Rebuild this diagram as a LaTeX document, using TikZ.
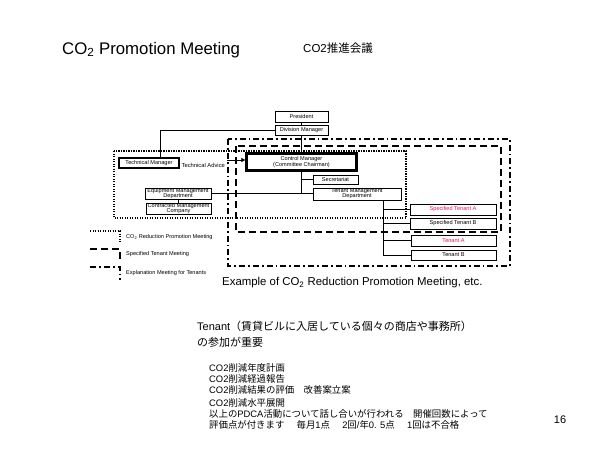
\documentclass[tikz,border=0pt]{standalone}
\usepackage{fontspec}
\setmainfont{Liberation Sans}
\newfontfamily\jp{Noto Sans CJK JP}
\usetikzlibrary{arrows.meta}
\definecolor{tred}{RGB}{232,20,90}
\begin{document}
\begin{tikzpicture}[x=1pt,y=-1pt,
  box/.style={draw, line width=0.6pt, fill=white, inner sep=0.3pt, align=center,
    font=\fontsize{5.6}{5.2}\selectfont},
  thickbox/.style={box, line width=1.3pt},
  dotbox/.style={line width=1.6pt, dash pattern=on 1.4pt off 1.1pt},
  dashbox/.style={line width=1.8pt, dash pattern=on 7pt off 4pt},
  dashdotbox/.style={line width=1.8pt, dash pattern=on 6pt off 3pt on 1.8pt off 3pt},
  conn/.style={line width=0.6pt},
  legtext/.style={anchor=west, inner sep=0pt, font=\fontsize{5.6}{6}\selectfont},
  bigtext/.style={anchor=west, inner sep=0pt, align=left}
]
\useasboundingbox (0,0) rectangle (600,450);

% titles
\node[bigtext, font=\fontsize{16.8}{18}\selectfont] (title) at (62,50) {CO\textsubscript{2} Promotion Meeting};
\node[bigtext, font=\fontsize{11.5}{13}\selectfont] (jtitle) at (303,48) {CO2{\jp 推進会議}};

% meeting boxes
\draw[dashdotbox] (228,139) rectangle (510,266);
\draw[dashbox] (236,146) rectangle (501,232);
\draw[dotbox] (114,151) rectangle (406,218);

% nodes
\node[box, minimum width=53pt, minimum height=11pt] (pres) at (301.5,116.5) {President};
\node[box, minimum width=53pt, minimum height=10pt] (dm) at (301.5,130) {Division Manager};
\node[thickbox, minimum width=60pt, minimum height=10pt] (tm) at (149,163) {Technical Manager};
\node[box, minimum width=66pt, minimum height=11pt] (eq) at (178,193.5) {Equipment Management\\Department};
\node[box, minimum width=65pt, minimum height=11pt] (co) at (178.5,208.5) {Contracted Management\\Company};
\node[thickbox, minimum width=111pt, minimum height=18pt] (cm) at (301.5,162) {Control Manager\\[0.6pt](Committee Chairman)};
\draw[line width=0.5pt] ([shift={(2.2,2.2)}]cm.north west) rectangle ([shift={(-2.2,-2.2)}]cm.south east);
\node[box, minimum width=45pt, minimum height=9pt] (sec) at (335.5,179.5) {Secretariat};
\node[box, minimum width=88pt, minimum height=12pt] (tmd) at (357,194) {Tenant Management\\Department};
\node[box, minimum width=86pt, minimum height=11pt, text=tred] (sta) at (453,209.5) {Specified Tenant A};
\node[box, minimum width=86pt, minimum height=11pt] (stb) at (453,223.5) {Specified Tenant B};
\node[box, minimum width=85pt, minimum height=11pt, text=tred] (ta) at (453.5,240.5) {Tenant A};
\node[box, minimum width=85pt, minimum height=10pt] (tb) at (453.5,255) {Tenant B};
\node[legtext, font=\fontsize{5.8}{6}\selectfont] (adv) at (181.5,165) {Technical Advice};

% connectors
\draw[conn] (pres.south) -- (dm.north);
\draw[conn] (dm.south) -- (cm.north);
\draw[conn] (dm.west) -| ([xshift=11pt]tm.north);
\draw[conn] (cm.south) -- (cm.south |- tmd.west);
\draw[conn] (cm.south |- sec.west) -- (sec.west);
\draw[conn] (eq.east) -- (eq.east -| tmd.west);
\draw[conn] (eq.south) -- (eq.south |- co.north);
\coordinate (tv) at ([xshift=26pt]tmd.south);
\draw[conn] (tv) |- (tb.west);
\draw[conn] (tv |- sta.west) -- (sta.west);
\draw[conn] (tv |- stb.west) -- (stb.west);
\draw[conn] (tv |- ta.west) -- (ta.west);
\coordinate (arrS) at (227,160);
\draw[conn, -{Triangle[length=4pt,width=4pt]}] (arrS) -- (arrS -| cm.west);

% legend
\coordinate (l1) at (90,231);
\coordinate (l2) at (90,249);
\coordinate (l3) at (90,267);
\draw[dotbox] (l1) -- ++(30,0) -- ++(0,11);
\draw[dashbox] (l2) -- ++(30,0) -- ++(0,11);
\draw[dashdotbox] (l3) -- ++(30,0) -- ++(0,13);
\node[legtext] (lt1) at (126,237) {CO\textsubscript{2} Reduction Promotion Meeting};
\node[legtext] (lt2) at (126,254.5) {Specified Tenant Meeting};
\node[legtext] (lt3) at (126,273) {Explanation Meeting for Tenants};

\node[bigtext, font=\fontsize{11.4}{13}\selectfont] (ex) at (222,283) {Example of CO\textsubscript{2} Reduction Promotion Meeting, etc.};

% bottom text
\node[bigtext, font=\fontsize{11}{12}\selectfont] (ten1) at (197,326) {Tenant{\jp （賃貸ビルに入居している個々の商店や事務所）}};
\node[bigtext, font=\fontsize{11}{12}\selectfont] (ten2) at (197,342) {\jp の参加が重要};
\begin{scope}[every node/.style={bigtext, font=\fontsize{9.4}{10}\selectfont}]
\node (b1) at (209,368) {CO2{\jp 削減年度計画}};
\node (b2) at (209,379) {CO2{\jp 削減経過報告}};
\node (b3) at (209,390) {CO2{\jp 削減結果の評価　改善案立案}};
\node (b4) at (209,402.5) {CO2{\jp 削減水平展開}};
\node (b5) at (209,413.5) {{\jp 以上の}PDCA{\jp 活動について話し合いが行われる　開催回数によって}};
\node (b6) at (209,424.5) {{\jp 評価点が付きます\hspace{1.3em}毎月}1{\jp 点\hspace{1.3em}}2{\jp 回}/{\jp 年}0. 5{\jp 点\hspace{1.3em}}1{\jp 回は不合格}};
\end{scope}
\node[font=\fontsize{11}{12}\selectfont, inner sep=0pt] (pg) at (560,420) {16};
\end{tikzpicture}
\end{document}
